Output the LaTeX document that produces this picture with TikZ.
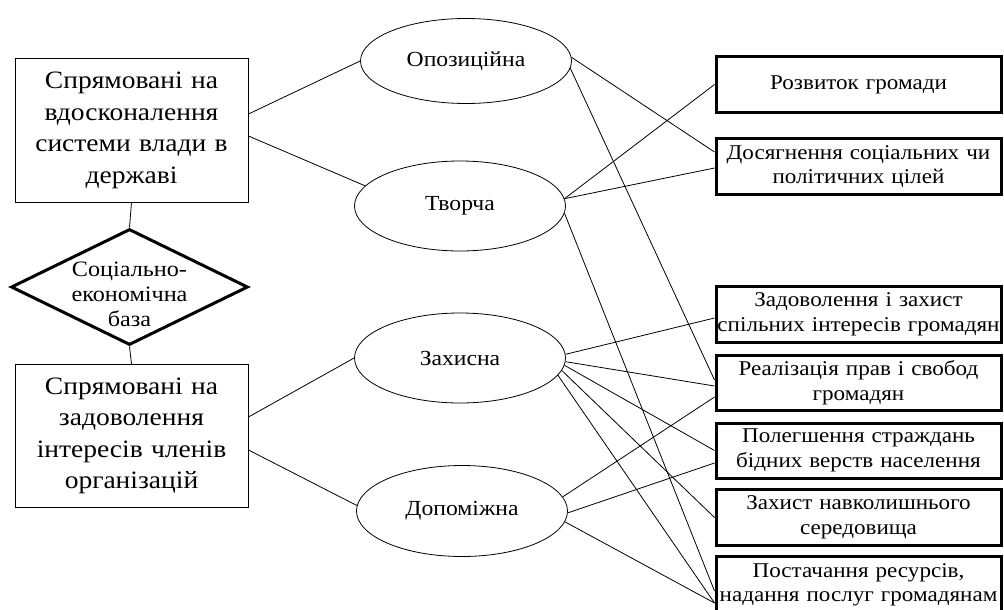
\documentclass[tikz,border=0pt]{standalone}
\usepackage{fontspec}
\setmainfont{Liberation Serif}[FakeStretch=1.1]
\usetikzlibrary{shapes.geometric}
\begin{document}
\begin{tikzpicture}[x=1pt,y=-1pt,
  leftbox/.style={draw, line width=1pt, minimum width=233pt, minimum height=143pt, text width=230pt, align=center, inner sep=0pt, font=\fontsize{25}{31.5}\selectfont},
  ell/.style={draw, ellipse, line width=0.8pt, minimum width=211pt, minimum height=88pt, inner sep=0pt, font=\fontsize{21.5}{25}\selectfont},
  rbox/.style={draw, line width=3pt, minimum width=285pt, text width=285pt, minimum height=56pt, align=center, inner sep=0pt, font=\fontsize{21}{24.5}\selectfont},
  dia/.style={draw, diamond, line width=3pt, minimum width=237pt, minimum height=116pt, inner sep=0pt},
  dialabel/.style={align=center, inner sep=0pt, font=\fontsize{22}{25}\selectfont},
  conn/.style={line width=0.8pt}]
\useasboundingbox (0,0) rectangle (1004,610);

% left column
\node[leftbox] (b1) at (131.5,130.5) {Спрямовані на\\вдосконалення\\системи влади в\\державі};
\node[dia] (d) at (129.5,287) {};
\node[dialabel] (dl) at (129.5,294) {Соціально-\\економічна\\база};
\node[leftbox] (b2) at (131.5,436) {Спрямовані на\\задоволення\\інтересів членів\\організацій};

% ellipses
\node[ell, minimum height=85pt] (opoz) at (466,61) {Опозиційна};
\node[ell, minimum height=90pt] (tvor) at (460,206) {Творча};
\node[ell, minimum height=90pt] (zah) at (460,358) {Захисна};
\node[ell, minimum height=91pt] (dop) at (462,511) {Допоміжна};

% right boxes
\node[rbox] (r1) at (858.5,84.5) {Розвиток громади};
\node[rbox] (r2) at (858.5,166.5) {Досягнення соціальних чи\\політичних цілей};
\node[rbox] (r3) at (858.5,314.5) {Задоволення і захист\\спільних інтересів громадян};
\node[rbox, minimum height=55pt] (r4) at (858.5,382.5) {Реалізація прав і свобод\\громадян};
\node[rbox, minimum height=55pt] (r5) at (858.5,450.5) {Полегшення страждань\\бідних верств населення};
\node[rbox] (r6) at (858.5,517.5) {Захист навколишнього\\середовища};
\node[rbox, minimum height=58pt] (r7) at (858.5,585) {Постачання ресурсів,\\надання послуг громадянам};

% vertical links
\draw[conn] (b1.south) -- (d.north);
\draw[conn] (d.south) -- (b2.north);

% left boxes to ellipses
\draw[conn] ([yshift=16.5pt]b1.east) -- (opoz.west);
\draw[conn] ([yshift=-5.5pt]b1.east) -- (tvor.168);
\draw[conn] ([yshift=19pt]b2.east) -- (zah.west);
\draw[conn] ([yshift=-14pt]b2.east) -- (dop.177);

% Opozytsiina
\draw[conn] (opoz.2) -- ([yshift=14.5pt]r2.west);
\draw[conn] (opoz.-4) -- ([yshift=2.5pt]r4.west);
% Tvorcha
\draw[conn] (tvor.4) -- (r1.west);
\draw[conn] (tvor.4) -- ([yshift=-1.5pt]r2.west);
\draw[conn] (tvor.-4) -- ([yshift=-6pt]r7.west);
% Zakhysna
\draw[conn] (zah.2) -- ([yshift=-3.5pt]r3.west);
\draw[conn] (zah.-2) -- ([yshift=-3.5pt]r4.west);
\draw[conn] (zah.-4) -- (r5.west);
\draw[conn] (zah.-7) -- (r6.west);
\draw[conn] (zah.-10) -- ([yshift=-18pt]r7.west);
% Dopomizhna
\draw[conn] (dop.8) -- ([yshift=-14.5pt]r4.west);
\draw[conn] (dop.-1) -- ([yshift=-12.5pt]r5.west);
\draw[conn] (dop.-6) -- ([yshift=-18pt]r7.west);
\end{tikzpicture}
\end{document}
